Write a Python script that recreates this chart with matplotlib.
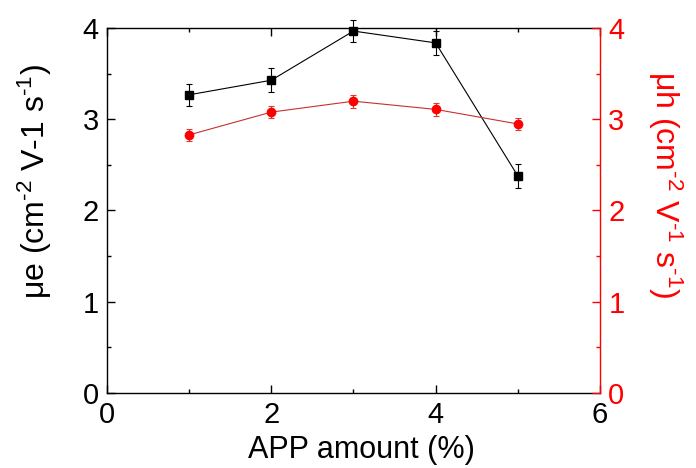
import matplotlib
matplotlib.use("Agg")
import matplotlib.pyplot as plt
from matplotlib.ticker import MultipleLocator

plt.rcParams['font.family'] = ['Liberation Sans', 'DejaVu Sans']
plt.rcParams['mathtext.fontset'] = 'custom'
plt.rcParams['mathtext.rm'] = 'Liberation Sans'
plt.rcParams['mathtext.it'] = 'Liberation Sans'

app_amount = [1, 2, 3, 4, 5]
mu_e = [3.27, 3.43, 3.97, 3.84, 2.38]
mu_e_err = [0.12, 0.13, 0.12, 0.13, 0.13]
mu_h = [2.83, 3.08, 3.20, 3.11, 2.95]
mu_h_err = [0.07, 0.07, 0.07, 0.07, 0.07]

red = '#ff0000'

fig = plt.figure(figsize=(6.96, 4.68), dpi=100)
ax = fig.add_axes([0.1537, 0.161, 0.7083, 0.7785])
ax2 = ax.twinx()

ax.errorbar(app_amount, mu_e, yerr=mu_e_err, color='black', lw=0.8, marker='s',
            ms=6, capsize=2.5, elinewidth=0.8, capthick=0.8, clip_on=False, zorder=3)
ax2.errorbar(app_amount, mu_h, yerr=mu_h_err, color='#c83030', lw=0.8, marker='o',
             ms=6, mfc=red, mec=red, ecolor='#d83a3a', capsize=2.5, elinewidth=0.8,
             capthick=0.8, clip_on=False, zorder=3)

ax.set_xlim(0, 6)
ax.set_ylim(0, 4)
ax2.set_ylim(0, 4)
ax.xaxis.set_major_locator(MultipleLocator(2))
ax.xaxis.set_minor_locator(MultipleLocator(1))
ax.yaxis.set_major_locator(MultipleLocator(1))
ax.yaxis.set_minor_locator(MultipleLocator(0.5))
ax2.yaxis.set_major_locator(MultipleLocator(1))
ax2.yaxis.set_minor_locator(MultipleLocator(0.5))

ax.tick_params(which='both', direction='in', top=True, labelsize=21, width=1, pad=6)
ax.tick_params(which='major', length=6)
ax.tick_params(which='minor', length=3)
ax.tick_params(axis='y', which='both', right=False)
ax2.tick_params(which='both', direction='in', colors=red, labelsize=21, width=1, pad=6)
ax2.tick_params(which='major', length=6)
ax2.tick_params(which='minor', length=3)

for s in ['left', 'top', 'bottom']:
    ax.spines[s].set_linewidth(1)
ax2.spines['right'].set_color(red)
ax2.spines['right'].set_linewidth(1)
ax.spines['right'].set_visible(False)
ax2.spines['left'].set_visible(False)
ax2.spines['top'].set_visible(False)
ax2.spines['bottom'].set_visible(False)

ax.set_xlabel('APP amount (%)', fontsize=22, va='center')
ax.xaxis.set_label_coords(0.517, -0.157)
ax.set_ylabel(r'μe (cm$^{\text{-2}}$ V-1 s$^{\text{-1}}$)', fontsize=23, va='center')
ax.yaxis.set_label_coords(-0.146, 0.58)
ax2.set_ylabel(r'μh (cm$^{\text{-2}}$ V$^{\text{-1}}$ s$^{\text{-1}}$)', fontsize=23, color=red,
               rotation=270, va='center', ha='center')
ax2.yaxis.set_label_coords(1.132, 0.57)

fig.savefig('out.png', dpi=100)
